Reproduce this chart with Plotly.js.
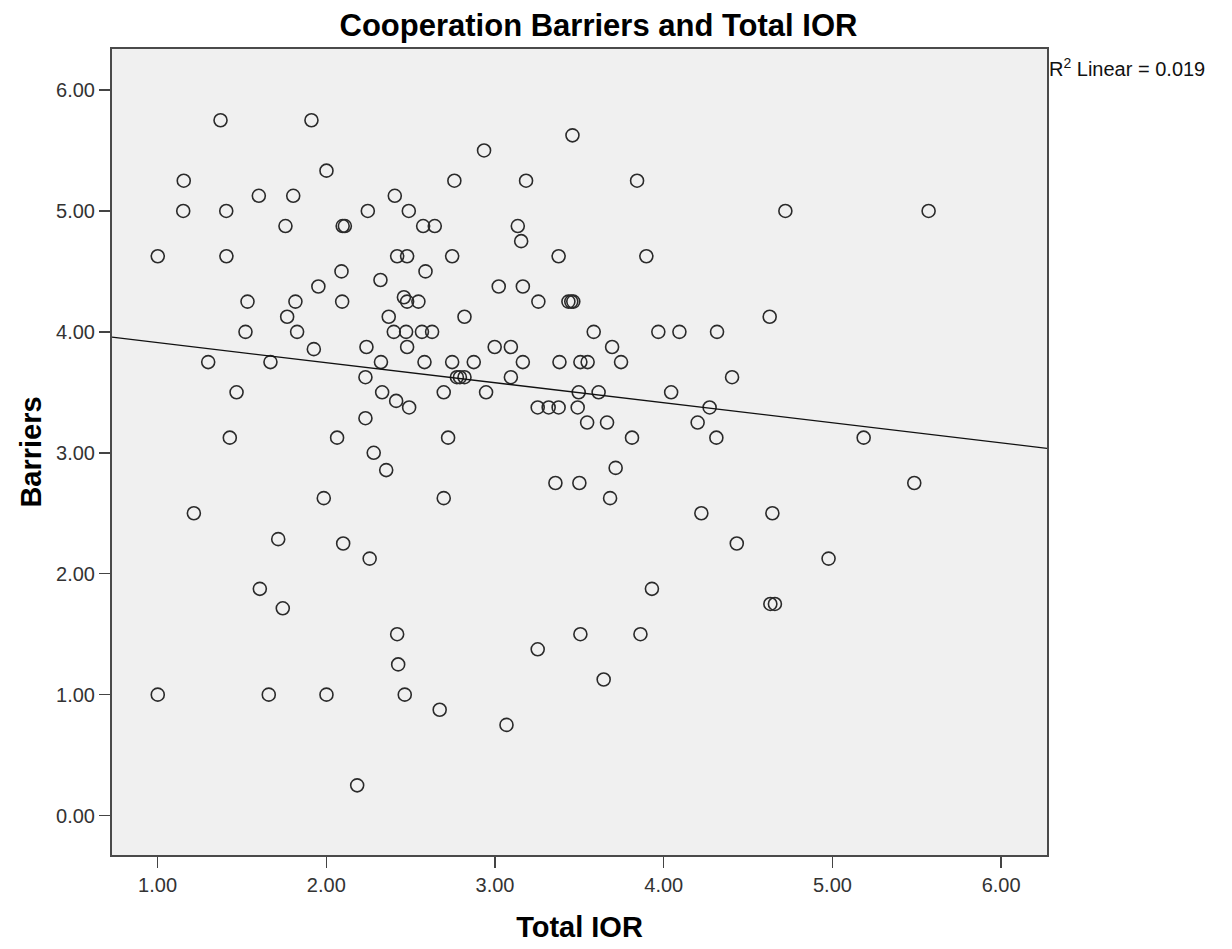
<!DOCTYPE html>
<html>
<head>
<meta charset="utf-8">
<script src="https://cdn.plot.ly/plotly-3.0.1.min.js"></script>
<style>
  html, body { margin: 0; padding: 0; background: #ffffff; }
  #chart { width: 1232px; height: 949px; }
</style>
</head>
<body>
<div id="chart"></div>
<script>
// Total IOR score for each respondent
const totalIOR = [
  1.373, 1.912, 3.459, 2.935, 2.001, 1.155, 2.759, 3.184, 3.842, 1.600,
  1.804, 2.406, 1.152, 1.407, 2.246, 2.489, 4.721, 5.570, 1.758, 2.097,
  2.110, 2.574, 2.643, 3.135, 3.155, 1.001, 1.408, 2.420, 2.479, 2.746,
  3.377, 3.897, 2.090, 2.588, 2.321, 1.953, 3.022, 3.165, 1.533, 1.817,
  2.094, 2.460, 2.479, 2.546, 3.257, 3.435, 3.452, 3.464, 1.768, 2.370,
  2.819, 4.628, 1.521, 1.827, 2.400, 2.473, 2.567, 2.627, 3.585, 3.968,
  4.093, 4.316, 1.926, 2.238, 2.479, 2.998, 3.094, 3.694, 1.300, 1.669,
  2.324, 2.582, 2.746, 2.874, 3.165, 3.382, 3.506, 3.549, 3.747, 2.232,
  2.774, 2.792, 2.819, 3.094, 4.405, 1.468, 2.331, 2.696, 2.947, 3.496,
  3.614, 4.044, 2.414, 2.491, 3.253, 3.318, 3.377, 3.490, 4.272, 2.232,
  3.546, 3.664, 4.201, 1.428, 2.064, 2.722, 3.812, 4.312, 5.185, 2.281,
  2.355, 3.715, 3.358, 3.500, 5.485, 1.985, 2.696, 3.682, 1.215, 4.223,
  4.644, 1.715, 2.100, 4.433, 2.257, 4.977, 1.606, 3.930, 1.742, 4.632,
  4.659, 2.420, 3.506, 3.862, 3.253, 2.426, 3.644, 1.001, 1.659, 2.001,
  2.465, 2.672, 3.068, 2.183
];

// Cooperation barriers score for the same respondents
const barriers = [
  5.750, 5.750, 5.625, 5.500, 5.333, 5.250, 5.250, 5.250, 5.250, 5.125,
  5.125, 5.125, 5.000, 5.000, 5.000, 5.000, 5.000, 5.000, 4.875, 4.875,
  4.875, 4.875, 4.875, 4.875, 4.750, 4.625, 4.625, 4.625, 4.625, 4.625,
  4.625, 4.625, 4.500, 4.500, 4.429, 4.375, 4.375, 4.375, 4.250, 4.250,
  4.250, 4.286, 4.250, 4.250, 4.250, 4.250, 4.250, 4.250, 4.125, 4.125,
  4.125, 4.125, 4.000, 4.000, 4.000, 4.000, 4.000, 4.000, 4.000, 4.000,
  4.000, 4.000, 3.857, 3.875, 3.875, 3.875, 3.875, 3.875, 3.750, 3.750,
  3.750, 3.750, 3.750, 3.750, 3.750, 3.750, 3.750, 3.750, 3.750, 3.625,
  3.625, 3.625, 3.625, 3.625, 3.625, 3.500, 3.500, 3.500, 3.500, 3.500,
  3.500, 3.500, 3.429, 3.375, 3.375, 3.375, 3.375, 3.375, 3.375, 3.286,
  3.250, 3.250, 3.250, 3.125, 3.125, 3.125, 3.125, 3.125, 3.125, 3.000,
  2.857, 2.875, 2.750, 2.750, 2.750, 2.625, 2.625, 2.625, 2.500, 2.500,
  2.500, 2.286, 2.250, 2.250, 2.125, 2.125, 1.875, 1.875, 1.714, 1.750,
  1.750, 1.500, 1.500, 1.500, 1.375, 1.250, 1.125, 1.000, 1.000, 1.000,
  1.000, 0.875, 0.750, 0.250
];

const xTicks = [1, 2, 3, 4, 5, 6];
const yTicks = [0, 1, 2, 3, 4, 5, 6];
const xRange = [0.7298, 6.2717];
const yRange = [-0.326, 6.339];
const rSquaredLabel = "R<sup>2</sup> Linear = 0.019";

// Ordinary least squares fit of barriers on total IOR
function linearFit(xs, ys) {
  const n = xs.length;
  let sx = 0, sy = 0;
  for (let i = 0; i < n; i++) { sx += xs[i]; sy += ys[i]; }
  const mx = sx / n, my = sy / n;
  let sxy = 0, sxx = 0;
  for (let i = 0; i < n; i++) {
    sxy += (xs[i] - mx) * (ys[i] - my);
    sxx += (xs[i] - mx) * (xs[i] - mx);
  }
  const slope = sxy / sxx;
  return { slope: slope, intercept: my - slope * mx };
}

const fit = linearFit(totalIOR, barriers);
const fitX = [xRange[0], xRange[1]];
const fitY = fitX.map(v => fit.intercept + fit.slope * v);

const FONT = "Liberation Sans, Arial, Helvetica, sans-serif";

const traces = [
  {
    type: "scatter",
    mode: "markers",
    x: totalIOR,
    y: barriers,
    marker: {
      symbol: "circle-open",
      size: 13,
      color: "#2a2a2a",
      line: { width: 1.6, color: "#2a2a2a" }
    },
    hoverinfo: "x+y",
    showlegend: false
  },
  {
    type: "scatter",
    mode: "lines",
    x: fitX,
    y: fitY,
    line: { color: "#111111", width: 1.3 },
    hoverinfo: "skip",
    showlegend: false
  }
];

const layout = {
  width: 1232,
  height: 949,
  margin: { l: 112, r: 185, t: 49, b: 94, pad: 0 },
  paper_bgcolor: "#ffffff",
  plot_bgcolor: "#f0f0f0",
  font: { family: FONT, color: "#222222" },
  title: {
    text: "Cooperation Barriers and Total IOR",
    font: { family: FONT, size: 31, color: "#000000", weight: "bold" },
    xref: "container",
    x: 0.4858,
    xanchor: "center",
    yref: "container",
    y: 0.974,
    yanchor: "middle"
  },
  xaxis: {
    range: xRange,
    tickmode: "array",
    tickvals: xTicks,
    ticktext: xTicks.map(v => v.toFixed(2)),
    ticks: "outside",
    ticklen: 11,
    tickwidth: 1.5,
    tickcolor: "#444444",
    tickfont: { family: FONT, size: 20, color: "#333333" },
    showgrid: false,
    zeroline: false,
    showline: true,
    linecolor: "#4a4a4a",
    linewidth: 2,
    mirror: true,
    title: {
      text: "Total IOR",
      font: { family: FONT, size: 29, color: "#000000", weight: "bold" },
      standoff: 22
    }
  },
  yaxis: {
    range: yRange,
    tickmode: "array",
    tickvals: yTicks,
    ticktext: yTicks.map(v => v.toFixed(2)),
    ticks: "outside",
    ticklen: 11,
    tickwidth: 1.5,
    tickcolor: "#444444",
    tickfont: { family: FONT, size: 20, color: "#333333" },
    showgrid: false,
    zeroline: false,
    showline: true,
    linecolor: "#4a4a4a",
    linewidth: 2,
    mirror: true,
    title: {
      text: "Barriers",
      font: { family: FONT, size: 29, color: "#000000", weight: "bold" },
      standoff: 6
    }
  },
  annotations: [
    {
      text: rSquaredLabel,
      xref: "paper",
      yref: "paper",
      x: 1,
      y: 0.977,
      xanchor: "left",
      yanchor: "middle",
      xshift: 0,
      showarrow: false,
      font: { family: FONT, size: 20, color: "#111111" }
    }
  ]
};

Plotly.newPlot("chart", traces, layout, { displayModeBar: false, staticPlot: true });
</script>
</body>
</html>
